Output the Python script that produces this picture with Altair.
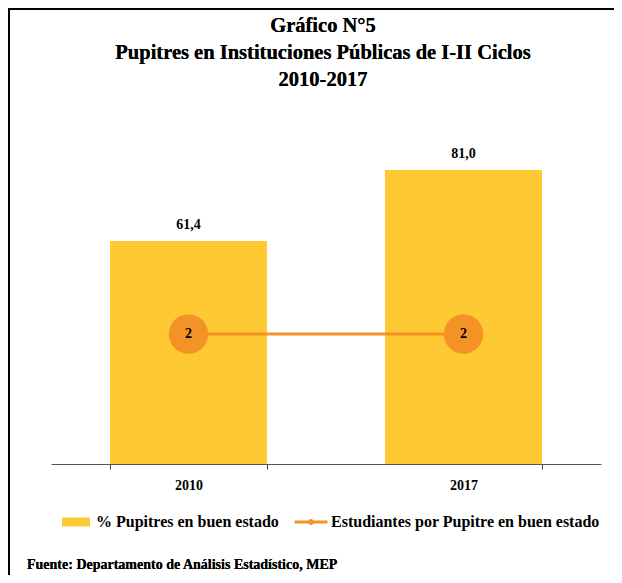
import altair as alt
import pandas as pd

years = ["2010", "2017"]
pct_buen_estado = [61.4, 81.0]
est_por_pupitre = [2, 2]
pct_labels = ["61,4", "81,0"]

serie_bar = "% Pupitres en buen estado"
serie_line = "Estudiantes por Pupitre en buen estado"
title_lines = ["Gráfico N°5", "Pupitres en Instituciones Públicas de I-II Ciclos", "2010-2017"]
footer_text = "Fuente: Departamento de Análisis Estadístico, MEP"

YELLOW = "#FFC933"
ORANGE = "#F39325"
FONT = "Liberation Serif"

df = pd.DataFrame({
    "year": years,
    "pct": pct_buen_estado,
    "est": est_por_pupitre,
    "label": pct_labels,
    "sbar": [serie_bar] * len(years),
    "sline": [serie_line] * len(years),
})

x = alt.X("year:N", title=None, sort=years,
          scale=alt.Scale(paddingInner=0.43, paddingOuter=0.215),
          axis=alt.Axis(labelAngle=0, tickBand="extent", labelFont=FONT,
                        labelFontSize=14, labelFontWeight="bold", labelColor="#000",
                        domainColor="#555", tickColor="#333", tickSize=5,
                        labelPadding=9, domainWidth=1.2))

y_bar = alt.Y("pct:Q", scale=alt.Scale(domain=[0, 100]), axis=None)
y_line = alt.Y("est:Q", scale=alt.Scale(domain=[0, 5.585]), axis=None)

bars = alt.Chart(df).mark_bar(size=157).encode(
    x=x, y=y_bar,
    fill=alt.Fill("sbar:N", scale=alt.Scale(domain=[serie_bar], range=[YELLOW]),
                  legend=alt.Legend(title=None, orient="none", legendX=17, legendY=413,
                                    symbolType="M-2.8,-0.9H2.8V0.9H-2.8Z", symbolSize=100,
                                    symbolStrokeWidth=0, labelOffset=12, padding=0,
                                    labelLimit=400,
                                    labelFont=FONT, labelFontSize=16,
                                    labelFontWeight="bold", labelColor="#000")),
)
bar_text = alt.Chart(df).mark_text(dy=-9, baseline="bottom", font=FONT, fontSize=14,
                                   fontWeight="bold", color="#000").encode(
    x=x, y=y_bar, text="label:N")

bar_layer = alt.layer(bars, bar_text)

line = alt.Chart(df).mark_line(strokeWidth=3).encode(
    x=x, y=y_line,
    stroke=alt.Stroke("sline:N", scale=alt.Scale(domain=[serie_line], range=[ORANGE]),
                      legend=alt.Legend(title=None, orient="none", legendX=252, legendY=413,
                                        symbolType="M-3.3,0H3.3M0.3,0A0.3,0.3 0 1 1 -0.3,0A0.3,0.3 0 1 1 0.3,0",
                                        symbolSize=100, symbolStrokeWidth=3,
                                        labelOffset=12, padding=0, labelLimit=400,
                                        labelFont=FONT, labelFontSize=16,
                                        labelFontWeight="bold", labelColor="#000")),
)
circles = alt.Chart(df).mark_circle(size=1560, opacity=1, color=ORANGE).encode(x=x, y=y_line)
circle_text = alt.Chart(df).mark_text(font=FONT, fontSize=14, fontWeight="bold",
                                      color="#000", baseline="middle").encode(
    x=x, y=y_line, text="est:Q")

line_layer = alt.layer(line, circles, circle_text)

frame_top = alt.Chart(df).mark_rule(color="#000", strokeWidth=2).encode(
    x=alt.value(-43), x2=alt.value(600), y=alt.value(-92))
frame_left = alt.Chart(df).mark_rule(color="#000", strokeWidth=2).encode(
    x=alt.value(-42), y=alt.value(-93), y2=alt.value(480))
footer = alt.Chart(df).mark_text(align="left", baseline="middle", font=FONT, fontSize=14,
                                 fontWeight="bold", color="#000").encode(
    x=alt.value(-24), y=alt.value(464), text=alt.value(footer_text))

title_marks = [
    alt.Chart(df).mark_text(align="center", baseline="alphabetic", font=FONT, fontSize=20.5,
                            fontWeight="bold", color="#000").encode(
        x=alt.value(272), y=alt.value(yy), text=alt.value(t))
    for t, yy in zip(title_lines, [-69, -42, -15])
]

chart = alt.layer(bar_layer, line_layer, frame_top, frame_left, footer, *title_marks).resolve_scale(
    y="independent", fill="independent", stroke="independent"
).properties(
    width=550, height=363,
    autosize=alt.AutoSizeParams(type="none"),
    padding={"left": 43, "top": 93, "right": 13, "bottom": 111},
).configure_view(stroke=None)

chart.save("out.html", embed_options={"renderer": "svg", "actions": False})
